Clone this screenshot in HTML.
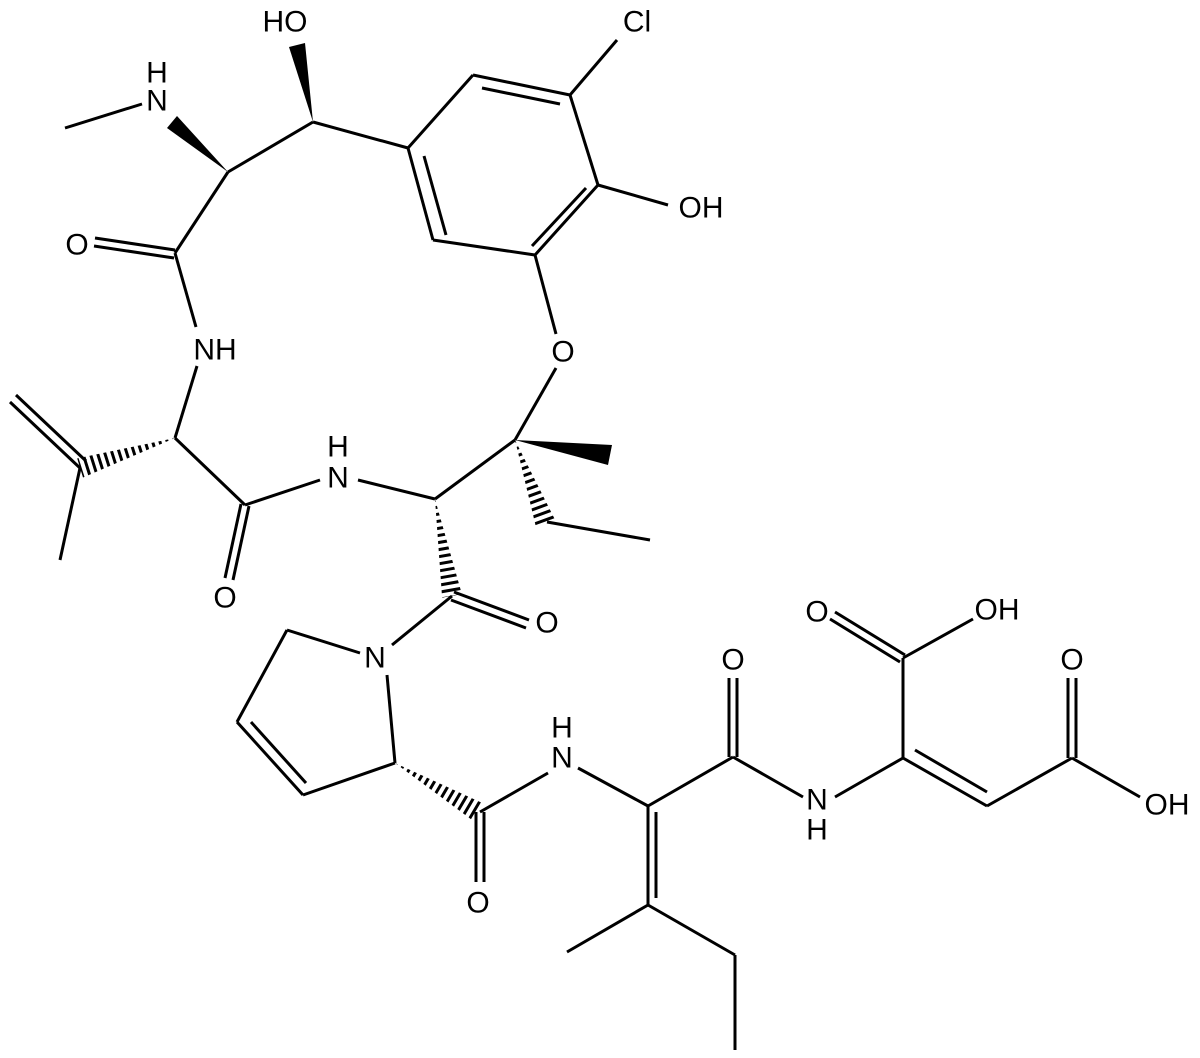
<!DOCTYPE html>
<html><head><meta charset="utf-8"><style>
html,body{margin:0;padding:0;background:#fff;}
svg{display:block;}
text{font-family:"Liberation Sans",Arial,sans-serif;font-size:30px;fill:#000;text-anchor:middle;dominant-baseline:central;}
</style></head><body>
<svg width="1200" height="1058" viewBox="0 0 1200 1058" xmlns="http://www.w3.org/2000/svg">
<defs>
<clipPath id="h1"><polygon points="175,438 82.8,477.6 77.2,458.4"/></clipPath>
<clipPath id="h2"><polygon points="515,440 554.4,518.5 535.6,525.5"/></clipPath>
<clipPath id="h3"><polygon points="435,499 461.9,594.3 442.1,597.7"/></clipPath>
<clipPath id="h4"><polygon points="395,763 483.1,803.4 472.9,820.6"/></clipPath>
</defs>
<g stroke="#000" stroke-width="3" fill="none" stroke-linecap="butt">
<line x1="65" y1="128" x2="142" y2="104"/>
<line x1="228" y1="172" x2="313" y2="122"/>
<line x1="313" y1="122" x2="408" y2="148"/>
<line x1="408" y1="148" x2="473" y2="75"/>
<line x1="473" y1="75" x2="570" y2="95"/>
<line x1="570" y1="95" x2="598" y2="185"/>
<line x1="598" y1="185" x2="535" y2="255"/>
<line x1="535" y1="255" x2="433" y2="240"/>
<line x1="433" y1="240" x2="408" y2="148"/>
<line x1="424" y1="166" x2="446" y2="245" transform="translate(0,-10)"/>
<line x1="482" y1="88" x2="560" y2="104"/>
<line x1="586" y1="188" x2="532" y2="246"/>
<line x1="570" y1="95" x2="617" y2="40"/>
<line x1="598" y1="185" x2="668" y2="205"/>
<line x1="535" y1="255" x2="556" y2="334"/>
<line x1="556" y1="368" x2="515" y2="440"/>
<line x1="547" y1="522" x2="650" y2="540"/>
<line x1="515" y1="440" x2="435" y2="499"/>
<line x1="435" y1="499" x2="358" y2="480"/>
<line x1="320" y1="480" x2="245" y2="505"/>
<line x1="228" y1="172" x2="175" y2="253"/>
<line x1="175" y1="250" x2="95" y2="238"/>
<line x1="174" y1="258" x2="94" y2="246"/>
<line x1="175" y1="253" x2="196" y2="327"/>
<line x1="197" y1="366" x2="175" y2="438"/>
<line x1="175" y1="438" x2="245" y2="505"/>
<line x1="80" y1="468" x2="60" y2="560"/>
<line x1="80" y1="468" x2="10" y2="402"/>
<line x1="86" y1="461" x2="16" y2="395"/>
<line x1="241" y1="504" x2="225" y2="578"/>
<line x1="249" y1="506" x2="233" y2="580"/>
<line x1="454" y1="592" x2="529" y2="620"/>
<line x1="451" y1="600" x2="526" y2="628"/>
<line x1="452" y1="596" x2="392" y2="645"/>
<line x1="360" y1="653" x2="287" y2="630"/>
<line x1="287" y1="630" x2="237" y2="722"/>
<line x1="237" y1="722" x2="303" y2="795"/>
<line x1="251" y1="722" x2="306" y2="783"/>
<line x1="303" y1="795" x2="395" y2="763"/>
<line x1="395" y1="763" x2="387" y2="675"/>
<line x1="476" y1="812" x2="476" y2="882"/>
<line x1="484" y1="812" x2="484" y2="882"/>
<line x1="480" y1="812" x2="548" y2="773"/>
<line x1="578" y1="768" x2="648" y2="806"/>
<line x1="648" y1="806" x2="733" y2="757"/>
<line x1="729" y1="757" x2="729" y2="678"/>
<line x1="737" y1="757" x2="737" y2="678"/>
<line x1="648" y1="806" x2="648" y2="905"/>
<line x1="656" y1="812" x2="656" y2="898"/>
<line x1="648" y1="905" x2="567" y2="952"/>
<line x1="648" y1="905" x2="735" y2="955"/>
<line x1="735" y1="955" x2="735" y2="1050"/>
<line x1="733" y1="757" x2="803" y2="797"/>
<line x1="835" y1="797" x2="903" y2="758"/>
<line x1="903" y1="758" x2="903" y2="658"/>
<line x1="905" y1="655" x2="835" y2="612"/>
<line x1="900" y1="662" x2="830" y2="619"/>
<line x1="903" y1="658" x2="973" y2="619"/>
<line x1="903" y1="758" x2="987" y2="806"/>
<line x1="915" y1="750" x2="987" y2="792"/>
<line x1="987" y1="806" x2="1072" y2="758"/>
<line x1="1068" y1="758" x2="1068" y2="678"/>
<line x1="1076" y1="758" x2="1076" y2="678"/>
<line x1="1072" y1="758" x2="1140" y2="797"/>
</g>
<polygon points="313,122 305,43 289,47" fill="#000"/>
<polygon points="228,172 177,116 167,128" fill="#000"/>
<polygon points="515,440 608,465 612,445" fill="#000"/>
<g stroke="#000" stroke-width="26" stroke-dasharray="3 4">
<line x1="175" y1="438" x2="80" y2="468" clip-path="url(#h1)"/>
<line x1="515" y1="440" x2="545" y2="522" clip-path="url(#h2)"/>
<line x1="435" y1="499" x2="452" y2="596" clip-path="url(#h3)"/>
<line x1="395" y1="763" x2="478" y2="812" clip-path="url(#h4)"/>
</g>
<text x="285" y="22">HO</text>
<text x="157" y="73">H</text>
<text x="157" y="101">N</text>
<text x="637" y="22">Cl</text>
<text x="701" y="208">OH</text>
<text x="77" y="245">O</text>
<text x="215" y="350">NH</text>
<text x="563" y="352">O</text>
<text x="338" y="447">H</text>
<text x="338" y="478">N</text>
<text x="225" y="598">O</text>
<text x="547" y="623">O</text>
<text x="375" y="658">N</text>
<text x="478" y="903">O</text>
<text x="562" y="728">H</text>
<text x="562" y="758">N</text>
<text x="733" y="660">O</text>
<text x="817" y="800">N</text>
<text x="817" y="830">H</text>
<text x="817" y="612">O</text>
<text x="997" y="610">OH</text>
<text x="1072" y="660">O</text>
<text x="1167" y="805">OH</text>
</svg>
</body></html>
